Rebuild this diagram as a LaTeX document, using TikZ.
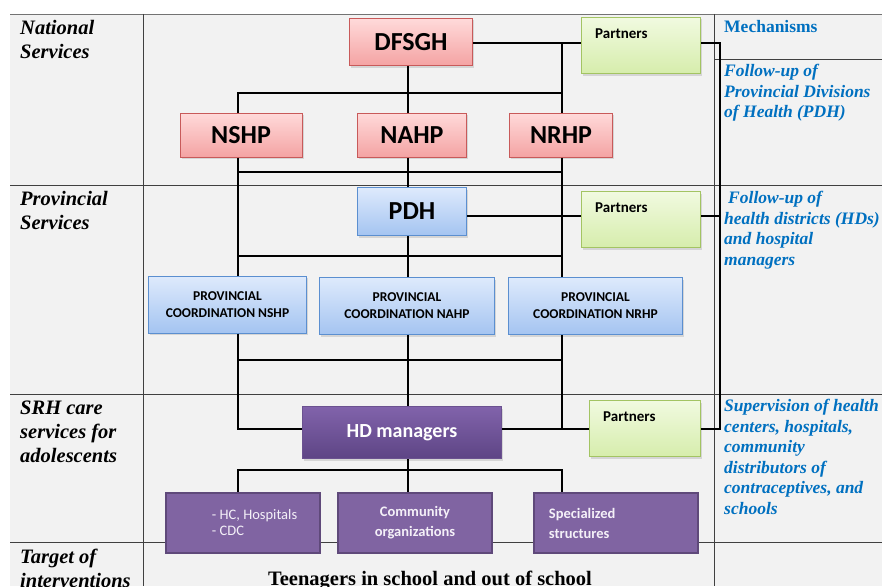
\documentclass[tikz,border=0pt]{standalone}
\usepackage{fontspec}
\setmainfont{Liberation Serif}
\newfontfamily\boxfont{Carlito}
\usetikzlibrary{shadows}

\definecolor{tablefill}{HTML}{F2F2F2}
\definecolor{mechblue}{HTML}{0070C0}
\definecolor{redtop}{HTML}{FFDADA}
\definecolor{redbottom}{HTML}{F4A3A3}
\definecolor{redborder}{HTML}{C85A5A}
\definecolor{bluetop}{HTML}{DEEAFC}
\definecolor{bluebottom}{HTML}{A4C4F1}
\definecolor{blueborder}{HTML}{5B8FD0}
\definecolor{greentop}{HTML}{F1FAE0}
\definecolor{greenbottom}{HTML}{D6EDAC}
\definecolor{greenborder}{HTML}{A3C463}
\definecolor{hdtop}{HTML}{8163AB}
\definecolor{hdbottom}{HTML}{5E4585}
\definecolor{hdborder}{HTML}{6B5290}
\definecolor{sitefill}{HTML}{8064A2}
\definecolor{siteborder}{HTML}{5F497A}
\definecolor{boxwhite}{HTML}{F4F0F8}

\tikzset{
  tableline/.style={black!75, line width=0.8pt},
  link/.style={black, line width=1.4pt},
  box/.style={draw, line width=1pt, inner sep=0pt,
    drop shadow={opacity=0.25, shadow xshift=1.5pt, shadow yshift=-2pt}},
  redbox/.style={box, draw=redborder, top color=redtop, bottom color=redbottom,
    minimum height=44pt, font=\boxfont\bfseries\fontsize{26}{30}\selectfont},
  bluebox/.style={box, draw=blueborder, top color=bluetop, bottom color=bluebottom},
  pdhbox/.style={bluebox, minimum width=109pt, minimum height=48pt,
    font=\boxfont\bfseries\fontsize{26}{30}\selectfont},
  coordbox/.style={bluebox, minimum height=57pt, align=center,
    font=\boxfont\bfseries\fontsize{13.5}{17}\selectfont},
  partner/.style={box, draw=greenborder, top color=greentop, bottom color=greenbottom,
    minimum height=56pt},
  partnertext/.style={anchor=north west, inner sep=0pt, xshift=14pt, yshift=-12pt,
    font=\boxfont\bfseries\fontsize{15}{18}\selectfont},
  hdbox/.style={box, draw=hdborder, top color=hdtop, bottom color=hdbottom, text=white,
    font=\boxfont\bfseries\fontsize{20}{24}\selectfont},
  sitebox/.style={draw=siteborder, line width=2.5pt, fill=sitefill, inner sep=0pt,
    minimum height=60pt, text=boxwhite, align=center,
    font=\boxfont\bfseries\fontsize{14.5}{20}\selectfont},
  sitetext/.style={anchor=west, inner sep=0pt, align=left, text=boxwhite},
  rowhead/.style={anchor=north west, inner sep=0pt, align=left,
    font=\bfseries\itshape\fontsize{20.5}{24}\selectfont},
  mech/.style={anchor=north west, inner sep=0pt, align=left, text=mechblue,
    font=\bfseries\itshape\fontsize{17.5}{20.5}\selectfont}
}

\begin{document}
\begin{tikzpicture}[x=1pt, y=-1pt]
  \useasboundingbox (0,0) rectangle (882,586);

  % table
  \fill[tablefill] (10,14) rectangle (882,586);
  \draw[tableline, black!55] (10,14) -- (882,14);
  \draw[tableline] (143,14) -- (143,586);
  \draw[tableline] (714,14) -- (714,586);
  \draw[tableline] (714,59) -- (882,59);
  \draw[tableline] (10,185) -- (882,185);
  \draw[tableline] (10,394) -- (882,394);
  \draw[tableline] (10,542) -- (882,542);

  % row headings
  \node[rowhead] (natl) at (20,20) {National\\Services};
  \node[rowhead] (prov) at (20,191) {Provincial\\Services};
  \node[rowhead] (srh) at (20,401) {SRH care\\services for\\adolescents};
  \node[rowhead] (target) at (20,549) {Target of\\interventions};

  % mechanisms column
  \node[mech, font=\bfseries\fontsize{17.5}{20.5}\selectfont] (mechs) at (724,20) {Mechanisms};
  \node[mech] (mech1) at (724,64) {Follow-up of\\Provincial Divisions\\of Health (PDH)};
  \node[mech] (mech2) at (724,191) {\hspace*{4pt}Follow-up of\\health districts (HDs)\\and hospital\\managers};
  \node[mech] (mech3) at (724,399) {Supervision of health\\centers, hospitals,\\community\\distributors of\\contraceptives, and\\schools};

  % national level
  \node[redbox, minimum width=123pt, minimum height=47pt] (dfsgh) at (411,42) {DFSGH};
  \node[redbox, minimum width=122pt] (nshp) at (241,135) {NSHP};
  \node[redbox, minimum width=109pt] (nahp) at (412,135) {NAHP};
  \node[redbox, minimum width=103pt] (nrhp) at (561,135) {NRHP};
  \node[partner, minimum width=119pt, label={[partnertext]north west:Partners}] (p1) at (641,45.5) {};

  % provincial level
  \node[pdhbox] (pdh) at (412,211.5) {PDH};
  \node[partner, minimum width=119pt, label={[partnertext]north west:Partners}] (p2) at (641,219.5) {};
  \node[coordbox, minimum width=158pt] (pcnshp) at (227.5,304.5) {PROVINCIAL\\COORDINATION NSHP};
  \node[coordbox, minimum width=175pt] (pcnahp) at (407,306) {PROVINCIAL\\COORDINATION NAHP};
  \node[coordbox, minimum width=174pt] (pcnrhp) at (595.5,306) {PROVINCIAL\\COORDINATION NRHP};

  % district level
  \node[hdbox, minimum width=199pt, minimum height=52pt] (hd) at (402,432.5) {HD managers};
  \node[partner, minimum width=111pt, label={[partnertext]north west:Partners}] (p3) at (645,428.5) {};
  \node[sitebox, minimum width=154pt,
    label={[sitetext, xshift=47pt, font=\boxfont\fontsize{14.5}{16}\selectfont]west:{- HC, Hospitals\\- CDC}}] (hc) at (243,523) {};
  \node[sitebox, minimum width=154pt] (comm) at (415,523) {Community\\organizations};
  \node[sitebox, minimum width=164pt,
    label={[sitetext, xshift=16pt, font=\boxfont\bfseries\fontsize{14.5}{20}\selectfont]west:{Specialized\\structures}}] (spec) at (616,523) {};

  \node[anchor=base, font=\bfseries\fontsize{20.5}{24}\selectfont] (teen) at (430,585) {Teenagers in school and out of school};

  % connector columns and rows
  \coordinate (cl) at (238,0);
  \coordinate (cm) at (408,0);
  \coordinate (cr) at (562,0);
  \coordinate (cx) at (720,0);
  \coordinate (rowtop) at (0,43);
  \coordinate (bus1) at (0,93);
  \coordinate (bus2) at (0,172);
  \coordinate (rowpdh) at (0,216);
  \coordinate (bus3) at (0,256);
  \coordinate (bus4) at (0,360);
  \coordinate (rowhd) at (0,429);
  \coordinate (bus5) at (0,470);

  % national links
  \draw[link] (dfsgh.east |- rowtop) -- (p1.west |- rowtop);
  \draw[link] (cr |- rowtop) -- (cr |- nrhp.north);
  \draw[link] (cm |- dfsgh.south) -- (cm |- nahp.north);
  \draw[link] (cl |- nshp.north) -- (cl |- bus1) -- (cr |- bus1);
  \draw[link] (cl |- bus2) -- (cr |- bus2);
  \draw[link] (cl |- nshp.south) -- (cl |- pcnshp.north);
  \draw[link] (cm |- nahp.south) -- (cm |- pdh.north);
  \draw[link] (cr |- nrhp.south) -- (cr |- pcnrhp.north);

  % provincial links
  \draw[link] (pdh.east |- rowpdh) -- (p2.west |- rowpdh);
  \draw[link] (cm |- pdh.south) -- (cm |- pcnahp.north);
  \draw[link] (cl |- bus3) -- (cr |- bus3);
  \draw[link] (cl |- bus4) -- (cr |- bus4);
  \draw[link] (cl |- pcnshp.south) -- (cl |- rowhd) -- (hd.west |- rowhd);
  \draw[link] (cm |- pcnahp.south) -- (cm |- hd.north);
  \draw[link] (cr |- pcnrhp.south) -- (cr |- rowhd);

  % district links
  \draw[link] (hd.east |- rowhd) -- (p3.west |- rowhd);
  \draw[link] (cm |- hd.south) -- (cm |- comm.north);
  \draw[link] (cl |- hc.north) -- (cl |- bus5) -- (cr |- bus5) -- (cr |- spec.north);

  % partners chain
  \draw[link] (p1.east |- rowtop) -- (cx |- rowtop) -- (cx |- rowhd) -- (p3.east |- rowhd);
  \draw[link] (p2.east |- rowpdh) -- (cx |- rowpdh);
\end{tikzpicture}
\end{document}
